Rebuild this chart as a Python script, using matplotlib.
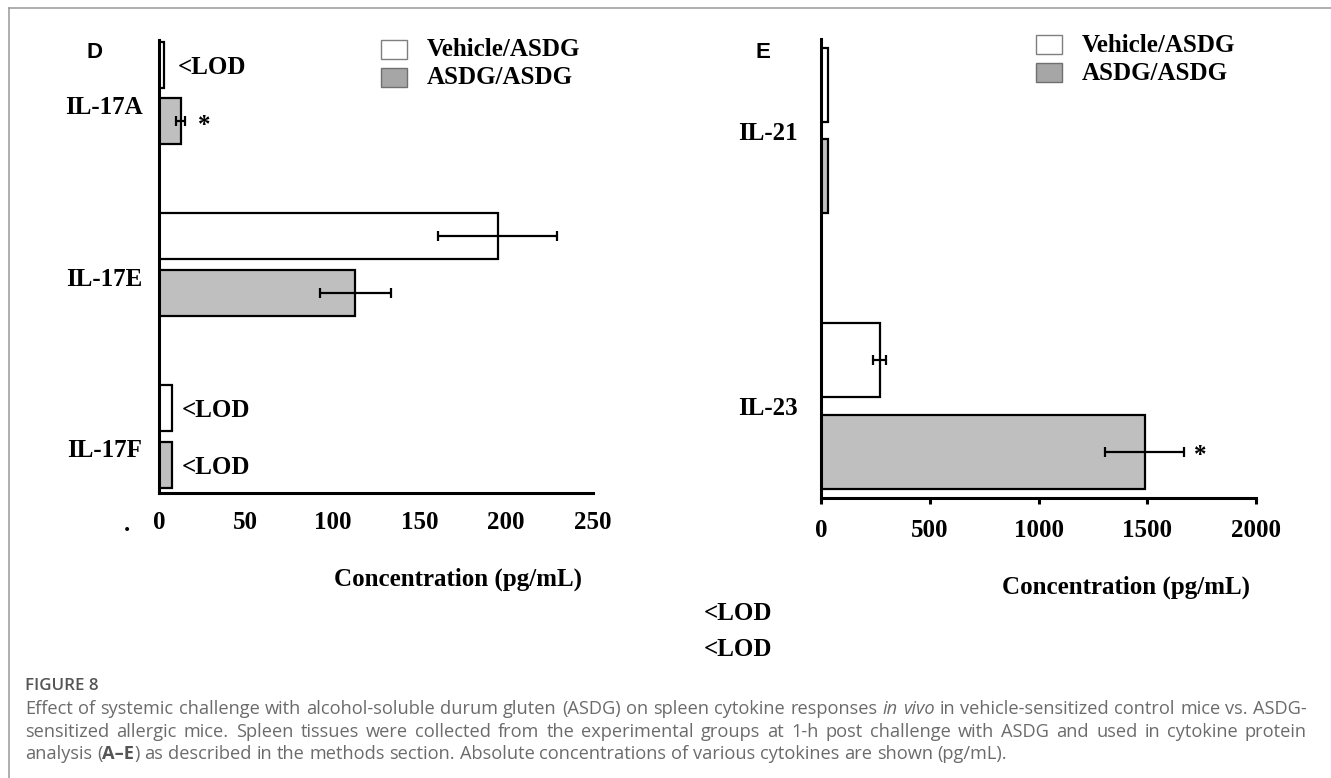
import matplotlib
matplotlib.use('Agg')
import matplotlib.pyplot as plt
from matplotlib.patches import Rectangle
from matplotlib.lines import Line2D
import numpy as np

W, H = 1331, 778

# panel D
cats_d = ['IL-17A', 'IL-17E', 'IL-17F']
veh_d = [3, 195, 7.7]
veh_d_err = [0, 34, 0]
asdg_d = [12.5, 113, 7.7]
asdg_d_err = [2.5, 20.5, 0]
xticks_d = [0, 50, 100, 150, 200, 250]

# panel E
cats_e = ['IL-21', 'IL-23']
veh_e = [30, 269]
veh_e_err = [0, 29]
asdg_e = [30, 1488]
asdg_e_err = [0, 183]
xticks_e = [0, 500, 1000, 1500, 2000]

legend_labels = ['Vehicle/ASDG', 'ASDG/ASDG']

SERIF = 'Liberation Serif'
FS = 18
GRAY_BAR = '#bfbfbf'
CAP_COLOR = '#6b6b6b'


def fx(px):
    return px / W


def fy(py):
    return 1 - py / H


fig = plt.figure(figsize=(W / 100, H / 100), dpi=100)

# frame lines around the figure
fig.add_artist(Line2D([fx(9), 1], [fy(8), fy(8)], color='#999999', lw=1.1))
fig.add_artist(Line2D([fx(9), fx(9)], [fy(8), 0], color='#999999', lw=1.1))


def make_axes(left, right, top, bottom):
    ax = fig.add_axes([fx(left), fy(bottom), (right - left) / W, (bottom - top) / H])
    ax.spines[['top', 'right']].set_visible(False)
    for s in ['left', 'bottom']:
        ax.spines[s].set_linewidth(2.2)
    return ax


def draw_bars(ax, veh, veh_err, asdg, asdg_err, off=0.166, h=0.268):
    pos = np.arange(len(veh))
    ax.barh(pos - off, veh, height=h, color='white', edgecolor='black', lw=1.6)
    ax.barh(pos + off, asdg, height=h, color=GRAY_BAR, edgecolor='black', lw=1.6)
    ekw = dict(fmt='none', ecolor='black', elinewidth=1.6, capsize=3.6, capthick=1.6)
    for p, v, e in zip(pos - off, veh, veh_err):
        if e > 0:
            ax.errorbar(v, p, xerr=e, **ekw)
    for p, v, e in zip(pos + off, asdg, asdg_err):
        if e > 0:
            ax.errorbar(v, p, xerr=e, **ekw)
    return pos


def note(ax, x, y, s, dx, dy=0):
    ax.annotate(s, (x, y), xytext=(dx, dy), textcoords='offset points',
                ha='left', va='center', fontsize=FS, family=SERIF, weight='bold')


def legend_at(x, y1, y2):
    fig.add_artist(Rectangle((fx(x), fy(y1 + 19)), 26 / W, 19 / H, facecolor='white',
                             edgecolor='#7f7f7f', lw=1.0, transform=fig.transFigure))
    fig.add_artist(Rectangle((fx(x), fy(y2 + 19)), 26 / W, 19 / H, facecolor='#a6a6a6',
                             edgecolor='#6f6f6f', lw=1.0, transform=fig.transFigure))
    for yy, lab in zip([y1, y2], legend_labels):
        fig.text(fx(x + 46), fy(yy + 10), lab, fontsize=FS, family=SERIF,
                 weight='bold', va='center', ha='left')


def style_ticks(ax):
    for lab in ax.get_xticklabels() + ax.get_yticklabels():
        lab.set_fontsize(FS)
        lab.set_family(SERIF)
        lab.set_weight('bold')


# ---- panel D ----
axd = make_axes(159, 593, 40, 493)
pos = draw_bars(axd, veh_d, veh_d_err, asdg_d, asdg_d_err)
axd.set_xlim(0, 250)
axd.set_ylim(2.332, -0.309)
axd.set_yticks(pos + 0.07, cats_d)
axd.tick_params(axis='y', length=0, pad=12)
axd.set_xticks(xticks_d)
axd.tick_params(axis='x', length=0, pad=13)
style_ticks(axd)
axd.set_xlabel('Concentration (pg/mL)', fontsize=FS, family=SERIF, weight='bold')
axd.xaxis.set_label_coords((458 - 159) / 434, -0.165)
note(axd, veh_d[0], pos[0] - 0.166, '<LOD', 10, -2)
note(axd, veh_d[2], pos[2] - 0.166, '<LOD', 7, -2)
note(axd, asdg_d[2], pos[2] + 0.166, '<LOD', 7, -2)
note(axd, asdg_d[0] + asdg_d_err[0], pos[0] + 0.166, '*', 9, -3)
fig.text(fx(127), fy(531), '.', fontsize=FS, family=SERIF, weight='bold', ha='center')
fig.text(fx(86), fy(53), 'D', fontsize=16, family='Liberation Sans', weight='bold',
         ha='left', va='center')
legend_at(381, 40, 68)

# ---- panel E ----
axe = make_axes(821, 1256, 39, 498)
pos = draw_bars(axe, veh_e, veh_e_err, asdg_e, asdg_e_err)
axe.set_xlim(0, 2000)
axe.set_ylim(1.3345, -0.3327)
axe.set_yticks(pos, cats_e)
axe.tick_params(axis='y', length=0, pad=17)
axe.set_xticks(xticks_e)
axe.tick_params(axis='x', length=4, width=2.2, pad=11)
style_ticks(axe)
axe.set_xlabel('Concentration (pg/mL)', fontsize=FS, family=SERIF, weight='bold')
axe.xaxis.set_label_coords((1126 - 821) / 435, -0.17)
note(axe, asdg_e[1] + asdg_e_err[1], pos[1] + 0.166, '*', 7, -3)
fig.text(fx(756), fy(53), 'E', fontsize=16, family='Liberation Sans', weight='bold',
         ha='left', va='center')
legend_at(1036, 35, 63)

# stray labels under panel E
for yy in [613, 650]:
    fig.text(fx(704), fy(yy), '<LOD', fontsize=FS, family=SERIF, weight='bold',
             ha='left', va='center')

# ---- caption ----
line1 = [('Effect of systemic challenge with alcohol-soluble durum gluten (ASDG) on spleen cytokine responses', 'normal'),
         ('in vivo', 'italic'),
         ('in vehicle-sensitized control mice vs. ASDG-', 'normal')]
line2 = [('sensitized allergic mice. Spleen tissues were collected from the experimental groups at 1-h post challenge with ASDG and used in cytokine protein', 'normal')]
line3 = [('analysis (', 'normal'), ('A\u2013E', 'bold'),
         (') as described in the methods section. Absolute concentrations of various cytokines are shown (pg/mL).', 'normal')]

renderer = fig.canvas.get_renderer()


def glue(line):
    # split into words, noting where a segment touches the previous one without a space
    toks = []
    for i, (s, st) in enumerate(line):
        words = s.split(' ')
        for j, w in enumerate(words):
            if w == '':
                continue
            if not toks:
                sp = False
            elif j == 0:
                sp = line[i - 1][0].endswith(' ') or s.startswith(' ')
                sp = sp or (line[i - 1][0][-1] not in '(' and w[0] not in ')')
            else:
                sp = True
            toks.append((w, st, sp))
    return toks


def caption_line(line, y, size, x0=25, x1=1307, justify=True, measure_only=False):
    toks = glue(line)
    objs = []
    for w, st, sp in toks:
        kw = dict(fontsize=size, family='Open Sans', color=CAP_COLOR, va='baseline', ha='left')
        if st == 'italic':
            kw['style'] = 'italic'
        elif st == 'bold':
            kw['weight'] = 'bold'
            kw['color'] = '#555555'
        objs.append(fig.text(0, fy(y), w, **kw))
    widths = [o.get_window_extent(renderer).width for o in objs]
    t1 = fig.text(0, 0, 'n n', fontsize=size, family='Open Sans')
    t2 = fig.text(0, 0, 'nn', fontsize=size, family='Open Sans')
    space = t1.get_window_extent(renderer).width - t2.get_window_extent(renderer).width
    t1.remove()
    t2.remove()
    nsp = sum(1 for t in toks if t[2])
    natural = sum(widths) + nsp * space
    if measure_only:
        for o in objs:
            o.remove()
        return natural
    gap = (x1 - x0 - sum(widths)) / nsp if justify else space
    x = x0
    for o, w, (_, _, sp) in zip(objs, widths, toks):
        if sp:
            x += gap
        o.set_x(fx(x))
        x += w
    return natural


base = 11
nat = caption_line(line1, 712, base, measure_only=True)
cap_size = base * (1307 - 25) / nat

fig.text(fx(25), fy(690), 'FIGURE 8', fontsize=cap_size * 0.92, family='Open Sans',
         weight='semibold', color='#555555', va='baseline', ha='left')
caption_line(line1, 714, cap_size)
caption_line(line2, 737, cap_size)
caption_line(line3, 759, cap_size, justify=False)

fig.savefig('out.png', dpi=100)
